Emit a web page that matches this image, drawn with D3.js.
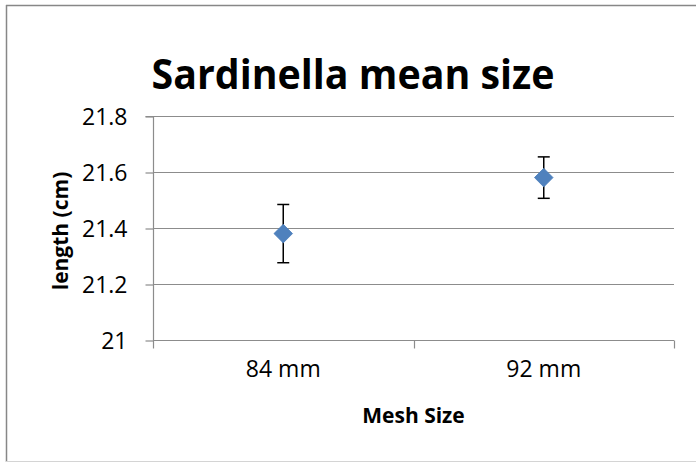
<!DOCTYPE html>
<html>
<head>
<meta charset="utf-8">
<script src="https://cdn.jsdelivr.net/npm/d3@7"></script>
<style>
  html, body { margin: 0; padding: 0; background: #fff; }
  svg { display: block; }
</style>
</head>
<body>
<svg id="chart" width="696" height="463"></svg>
<script>
const categories = ["84 mm", "92 mm"];
const meanValues = [21.38, 21.58];
const errorValues = [0.104, 0.074];
const yTicks = [21, 21.2, 21.4, 21.6, 21.8];
const yTickLabels = ["21", "21.2", "21.4", "21.6", "21.8"];
const titleText = "Sardinella mean size";
const xTitle = "Mesh Size";
const yTitle = "length (cm)";

const svg = d3.select("#chart");
const W = 696, H = 463;
const plot = { left: 153, right: 674, top: 116, bottom: 340 };
const font = "'Open Sans', 'DejaVu Sans', sans-serif";

// frame
svg.append("line").attr("x1", 6.5).attr("x2", 6.5).attr("y1", 5).attr("y2", 462).attr("stroke", "#878787").attr("stroke-width", 1.5);
svg.append("line").attr("x1", 6).attr("x2", 700).attr("y1", 5.5).attr("y2", 5.5).attr("stroke", "#878787").attr("stroke-width", 1.5);
svg.append("line").attr("x1", 6).attr("x2", 700).attr("y1", 461.5).attr("y2", 461.5).attr("stroke", "#d4d4d4").attr("stroke-width", 1);

const y = d3.scaleLinear().domain([21, 21.8]).range([plot.bottom, plot.top]);
const x = d3.scaleBand().domain(categories).range([plot.left, plot.right]);

// gridlines
svg.append("g").selectAll("line").data(yTicks.filter(d => d > 21)).join("line")
  .attr("x1", plot.left).attr("x2", plot.right)
  .attr("y1", d => Math.round(y(d)) + 0.5).attr("y2", d => Math.round(y(d)) + 0.5)
  .attr("stroke", "#8c8c8c").attr("stroke-width", 1.2);

// y axis
const yAxis = d3.axisLeft(y).tickValues(yTicks).tickSize(8).tickPadding(18)
  .tickFormat((d, i) => yTickLabels[i]);
const gy = svg.append("g").attr("transform", `translate(${plot.left + 0.5},0.5)`).call(yAxis);
gy.select(".domain").attr("stroke", "#8c8c8c").attr("stroke-width", 1.2).attr("d", `M-8,${plot.top}H0V${plot.bottom}`);
gy.selectAll(".tick line").attr("stroke", "#8c8c8c").attr("stroke-width", 1.2);
gy.selectAll(".tick text").attr("font-family", font).attr("font-size", 23).attr("fill", "#000").attr("dy", "0.36em");

// x axis
const xAxis = d3.axisBottom(x).tickSize(0).tickPadding(20);
const gx = svg.append("g").attr("transform", `translate(0,${plot.bottom + 0.5})`).call(xAxis);
gx.select(".domain").attr("stroke", "#8c8c8c").attr("stroke-width", 1.2).attr("d", `M${plot.left},0H${plot.right}`);
gx.selectAll(".tick text").attr("font-family", font).attr("font-size", 23).attr("fill", "#000").attr("dy", "0.71em");
// category boundary tick marks
const boundaries = categories.map(c => x(c)).concat([x(categories[categories.length - 1]) + x.bandwidth()]);
gx.append("g").selectAll("line").data(boundaries).join("line")
  .attr("x1", d => Math.round(d) + 0.5).attr("x2", d => Math.round(d) + 0.5)
  .attr("y1", 0).attr("y2", 8).attr("stroke", "#8c8c8c").attr("stroke-width", 1.2);

// error bars
const eb = svg.append("g");
categories.forEach((c, i) => {
  const cx = x(c) + x.bandwidth() / 2;
  const top = y(meanValues[i] + errorValues[i]);
  const bot = y(meanValues[i] - errorValues[i]);
  eb.append("line").attr("x1", cx).attr("x2", cx).attr("y1", top).attr("y2", bot).attr("stroke", "#000").attr("stroke-width", 1.5);
  eb.append("line").attr("x1", cx - 6).attr("x2", cx + 6).attr("y1", top).attr("y2", top).attr("stroke", "#000").attr("stroke-width", 1.5);
  eb.append("line").attr("x1", cx - 6).attr("x2", cx + 6).attr("y1", bot).attr("y2", bot).attr("stroke", "#000").attr("stroke-width", 1.5);
});

// markers
const diamond = d3.symbol().type(d3.symbolDiamond2).size(220);
svg.append("g").selectAll("path").data(meanValues).join("path")
  .attr("d", diamond)
  .attr("transform", (d, i) => `translate(${x(categories[i]) + x.bandwidth() / 2},${y(d)})`)
  .attr("fill", "#4f81bd").attr("stroke", "#4a7ebb").attr("stroke-width", 0.8);

// title
svg.append("text").attr("x", 353).attr("y", 89).attr("text-anchor", "middle")
  .attr("font-family", font).attr("font-weight", "bold").attr("font-size", 42)
  .attr("textLength", 403).attr("lengthAdjust", "spacingAndGlyphs")
  .text(titleText);

// x title
svg.append("text").attr("x", 413.5).attr("y", 423).attr("text-anchor", "middle")
  .attr("font-family", font).attr("font-weight", "bold").attr("font-size", 21)
  .text(xTitle);

// y title
svg.append("text").attr("transform", "translate(68,231) rotate(-90)").attr("text-anchor", "middle")
  .attr("font-family", font).attr("font-weight", "bold").attr("font-size", 21)
  .text(yTitle);
</script>
</body>
</html>
